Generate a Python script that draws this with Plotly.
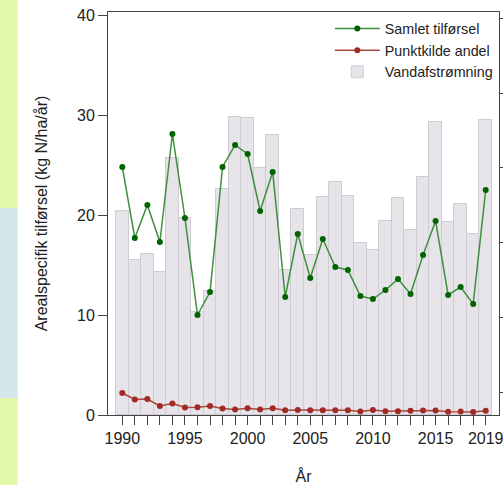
import plotly.graph_objects as go

years = list(range(1990, 2020))

samlet = [24.8, 17.7, 21.0, 17.3, 28.1, 19.7, 10.0, 12.3, 24.8, 27.0,
          26.1, 20.4, 24.3, 11.8, 18.1, 13.7, 17.6, 14.8, 14.5, 11.9,
          11.6, 12.5, 13.6, 12.1, 16.0, 19.4, 12.0, 12.8, 11.1, 22.5]

punktkilde = [2.2, 1.55, 1.6, 0.9, 1.15, 0.75, 0.78, 0.9, 0.65, 0.55,
              0.68, 0.55, 0.68, 0.48, 0.5, 0.48, 0.48, 0.48, 0.48, 0.35,
              0.5, 0.38, 0.38, 0.42, 0.45, 0.45, 0.33, 0.35, 0.3, 0.42]

vandafstroemning = [20.4, 15.5, 16.1, 14.3, 25.7, 19.7, 10.3, 12.4, 22.6, 29.8,
                    29.7, 24.7, 28.0, 14.5, 20.6, 16.0, 21.8, 23.3, 21.9, 17.2,
                    16.5, 19.4, 21.7, 18.5, 23.8, 29.3, 19.3, 21.1, 18.1, 29.5]

labeled_years = [1990, 1995, 2000, 2005, 2010, 2015, 2019]
tick_text = [str(y) if y in labeled_years else "" for y in years]

FONT = "Liberation Sans, Arial, sans-serif"
AX = "#444444"

fig = go.Figure()

fig.add_trace(go.Bar(
    x=years, y=vandafstroemning, name="Vandafstrømning",
    marker=dict(color="#e6e4e8", line=dict(color="#cfcdd3", width=1)),
    width=1.0, legendrank=3, yaxis="y",
))
fig.add_trace(go.Scatter(
    x=years, y=samlet, name="Samlet tilførsel", mode="lines+markers",
    line=dict(color="#3f8f3f", width=1.5),
    marker=dict(color="#006400", size=6),
    legendrank=1, yaxis="y2",
))
fig.add_trace(go.Scatter(
    x=years, y=punktkilde, name="Punktkilde andel", mode="lines+markers",
    line=dict(color="#a8463c", width=1.5),
    marker=dict(color="#a02a26", size=6),
    legendrank=2, yaxis="y2",
))

YR = [0, 40.3]

fig.update_layout(
    width=503, height=485,
    margin=dict(l=108, r=4, t=12, b=70, autoexpand=False),
    paper_bgcolor="white", plot_bgcolor="white",
    font=dict(family=FONT, size=16, color="#222222"),
    bargap=0,
    showlegend=True,
    legend=dict(
        x=0.997, y=0.998, xanchor="right", yanchor="top",
        bgcolor="rgba(0,0,0,0)", font=dict(size=14.3, color="#222222"),
        itemwidth=45, tracegroupgap=0,
    ),
    xaxis=dict(
        range=[1988.86, 2020.06], tickmode="array", tickvals=years, ticktext=tick_text,
        ticks="outside", ticklen=9, tickcolor=AX, showline=True, linecolor=AX,
        linewidth=1, mirror=True, showgrid=False, zeroline=False,
        ticklabeloverflow="allow",
        title=dict(text="År", standoff=24, font=dict(size=16)), tickfont=dict(size=16),
    ),
    yaxis=dict(
        range=YR, tickvals=[0, 10, 20, 30, 40], ticks="outside", ticklen=9,
        tickcolor=AX, showline=True, linecolor=AX, linewidth=1,
        showgrid=False, zeroline=False,
        title=dict(text="Arealspecifik tilførsel (kg N/ha/år)", standoff=25, font=dict(size=16)),
        tickfont=dict(size=16),
    ),
    yaxis2=dict(
        range=YR, overlaying="y", side="right", tick0=2.3, dtick=7.47,
        ticks="outside", ticklen=9, tickcolor=AX, showline=True, linecolor=AX,
        linewidth=1, showticklabels=False, showgrid=False, zeroline=False,
    ),
    shapes=[
        dict(type="rect", xref="paper", yref="paper", x0=-108/391, x1=-90.5/391,
             y0=-70/403, y1=1 + 12/403, fillcolor="#e3f7a8", line=dict(width=0), layer="below"),
        dict(type="rect", xref="paper", yref="paper", x0=-108/391, x1=-90.5/391,
             y0=(415 - 398)/403, y1=(415 - 208)/403, fillcolor="#d3e6ea", line=dict(width=0), layer="below"),
    ],
)

fig.write_html("out.html", config={"displayModeBar": False},
               post_script="document.body.style.margin='0';document.body.style.overflow='hidden';")
